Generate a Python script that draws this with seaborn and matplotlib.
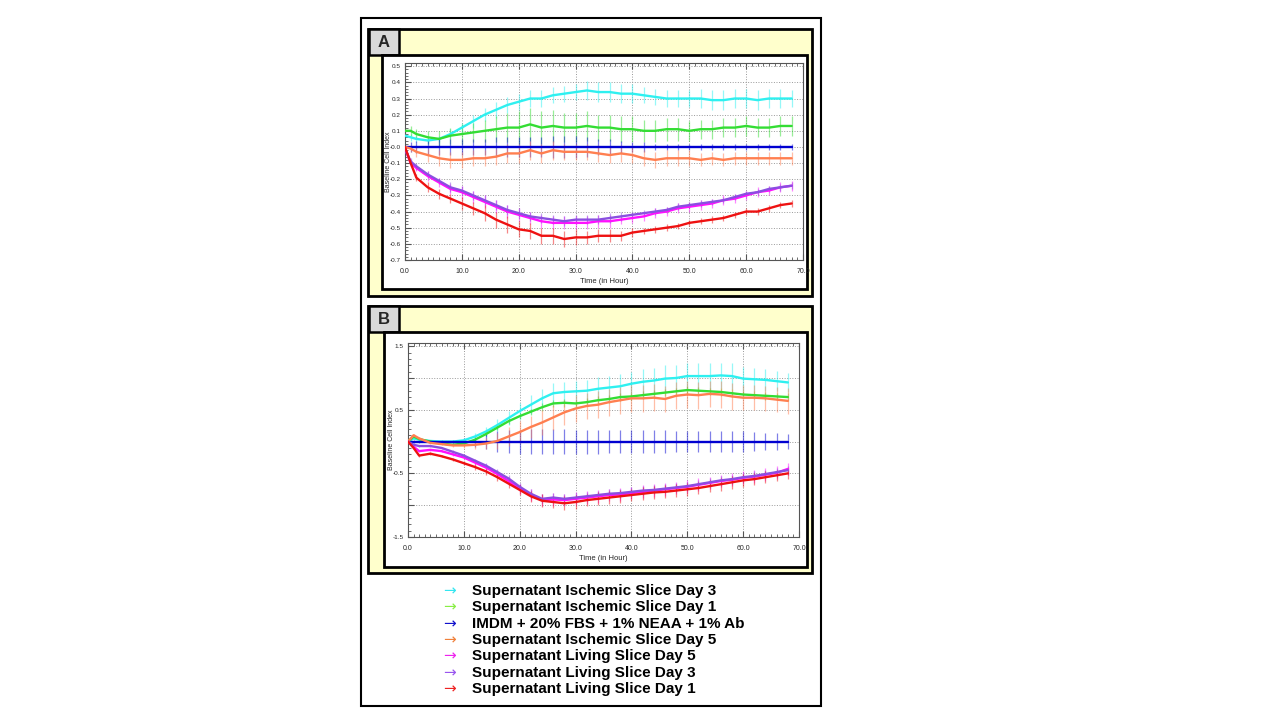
import numpy as np
import pandas as pd
import matplotlib
matplotlib.use("Agg")
import matplotlib.pyplot as plt
from matplotlib.patches import Rectangle
from matplotlib.ticker import MultipleLocator, FixedLocator
import seaborn as sns

# Time points (hours)
time_h = [0, 1, 2, 4, 6, 8, 10, 12, 14, 16, 18, 20, 22, 24, 26, 28, 30, 32, 34,
          36, 38, 40, 42, 44, 46, 48, 50, 52, 54, 56, 58, 60, 62, 64, 66, 68]

series_names = ["Supernatant Ischemic Slice Day 3",
                "Supernatant Ischemic Slice Day 1",
                "IMDM + 20% FBS + 1% NEAA + 1% Ab",
                "Supernatant Ischemic Slice Day 5",
                "Supernatant Living Slice Day 5",
                "Supernatant Living Slice Day 3",
                "Supernatant Living Slice Day 1"]
series_colors = ["#2EF0F0", "#33DD33", "#0000D0", "#FF7F50", "#FF10FF", "#8A4FE0", "#EE1111"]
legend_arrow_colors = ["#33E6F0", "#88EE44", "#1111CC", "#F0803A", "#EE22EE", "#9955EE", "#EE2222"]

# ---- Panel A: mean baseline cell index ----
a_isch_d3 = [0.07, 0.06, 0.05, 0.04, 0.05, 0.08, 0.12, 0.16, 0.20, 0.23, 0.26, 0.28, 0.30, 0.30,
             0.32, 0.33, 0.34, 0.35, 0.34, 0.34, 0.33, 0.33, 0.32, 0.31, 0.30, 0.30, 0.30, 0.30,
             0.29, 0.29, 0.30, 0.30, 0.29, 0.30, 0.30, 0.30]
a_isch_d1 = [0.10, 0.10, 0.08, 0.06, 0.05, 0.07, 0.08, 0.09, 0.10, 0.11, 0.12, 0.12, 0.14, 0.12,
             0.13, 0.12, 0.12, 0.13, 0.12, 0.12, 0.11, 0.11, 0.10, 0.10, 0.11, 0.11, 0.10, 0.11,
             0.11, 0.12, 0.12, 0.13, 0.12, 0.12, 0.13, 0.13]
a_medium = [0.0] * 36
a_isch_d5 = [0.00, -0.01, -0.03, -0.05, -0.07, -0.08, -0.08, -0.07, -0.07, -0.06, -0.04, -0.04,
             -0.02, -0.04, -0.02, -0.03, -0.03, -0.03, -0.04, -0.05, -0.04, -0.05, -0.07, -0.08,
             -0.07, -0.07, -0.07, -0.08, -0.07, -0.08, -0.07, -0.07, -0.07, -0.07, -0.07, -0.07]
a_liv_d5 = [-0.01, -0.10, -0.13, -0.18, -0.22, -0.26, -0.28, -0.31, -0.34, -0.37, -0.40, -0.42,
            -0.44, -0.46, -0.47, -0.47, -0.47, -0.47, -0.46, -0.46, -0.45, -0.44, -0.43, -0.41,
            -0.40, -0.38, -0.37, -0.36, -0.35, -0.33, -0.32, -0.30, -0.28, -0.27, -0.25, -0.24]
a_liv_d3 = [-0.01, -0.09, -0.12, -0.17, -0.21, -0.25, -0.27, -0.30, -0.33, -0.36, -0.39, -0.41,
            -0.43, -0.44, -0.45, -0.46, -0.45, -0.45, -0.45, -0.44, -0.43, -0.42, -0.41, -0.40,
            -0.39, -0.37, -0.36, -0.35, -0.34, -0.33, -0.31, -0.29, -0.28, -0.26, -0.25, -0.24]
a_liv_d1 = [0.00, -0.10, -0.19, -0.25, -0.29, -0.32, -0.35, -0.38, -0.41, -0.45, -0.48, -0.51,
            -0.52, -0.55, -0.55, -0.57, -0.56, -0.56, -0.55, -0.55, -0.55, -0.53, -0.52, -0.51,
            -0.50, -0.49, -0.47, -0.46, -0.45, -0.44, -0.42, -0.40, -0.40, -0.38, -0.36, -0.35]

# Panel A: error (half-width)
a_err = [
    [0.01, 0.02, 0.02, 0.02, 0.02, 0.03, 0.03, 0.04, 0.04, 0.05, 0.05, 0.05, 0.05, 0.05, 0.05,
     0.05, 0.05, 0.06, 0.06, 0.06, 0.06, 0.06, 0.05, 0.05, 0.05, 0.05, 0.05, 0.06, 0.06, 0.06,
     0.06, 0.06, 0.06, 0.06, 0.06, 0.05],
    [0.02, 0.03, 0.03, 0.04, 0.05, 0.05, 0.06, 0.06, 0.07, 0.08, 0.09, 0.10, 0.10, 0.10, 0.10,
     0.09, 0.09, 0.09, 0.08, 0.08, 0.08, 0.08, 0.07, 0.07, 0.07, 0.07, 0.06, 0.06, 0.06, 0.06,
     0.06, 0.06, 0.06, 0.06, 0.06, 0.06],
    [0.01, 0.03, 0.04, 0.05, 0.05, 0.05, 0.05, 0.05, 0.05, 0.06, 0.06, 0.06, 0.06, 0.06, 0.07,
     0.07, 0.07, 0.06, 0.05, 0.05, 0.04, 0.03, 0.03, 0.02, 0.02, 0.02, 0.02, 0.02, 0.02, 0.02,
     0.02, 0.02, 0.02, 0.02, 0.02, 0.02],
    [0.01, 0.02, 0.03, 0.04, 0.05, 0.05, 0.05, 0.05, 0.05, 0.05, 0.06, 0.06, 0.06, 0.06, 0.06,
     0.05, 0.05, 0.05, 0.05, 0.05, 0.05, 0.05, 0.05, 0.05, 0.05, 0.05, 0.05, 0.04, 0.04, 0.04,
     0.04, 0.04, 0.04, 0.04, 0.04, 0.04],
    [0.01, 0.02, 0.02, 0.03, 0.03, 0.03, 0.04, 0.04, 0.04, 0.04, 0.04, 0.04, 0.04, 0.04, 0.04,
     0.04, 0.04, 0.04, 0.04, 0.04, 0.03, 0.03, 0.03, 0.03, 0.03, 0.03, 0.03, 0.03, 0.03, 0.03,
     0.03, 0.03, 0.03, 0.03, 0.03, 0.03],
    [0.01, 0.02, 0.02, 0.02, 0.02, 0.03, 0.03, 0.03, 0.03, 0.03, 0.03, 0.03, 0.03, 0.03, 0.03,
     0.03, 0.03, 0.03, 0.03, 0.03, 0.03, 0.02, 0.02, 0.02, 0.02, 0.02, 0.02, 0.02, 0.02, 0.02,
     0.02, 0.02, 0.02, 0.02, 0.02, 0.02],
    [0.01, 0.02, 0.02, 0.03, 0.03, 0.03, 0.04, 0.04, 0.05, 0.05, 0.05, 0.05, 0.05, 0.05, 0.05,
     0.05, 0.05, 0.04, 0.04, 0.04, 0.03, 0.03, 0.02, 0.02, 0.02, 0.02, 0.02, 0.02, 0.02, 0.02,
     0.02, 0.02, 0.02, 0.02, 0.02, 0.02],
]

# ---- Panel B: mean baseline cell index ----
b_isch_d3 = [0.00, 0.05, 0.03, 0.01, 0.00, 0.00, 0.02, 0.08, 0.16, 0.26, 0.37, 0.48, 0.58, 0.68,
             0.76, 0.78, 0.79, 0.80, 0.83, 0.85, 0.87, 0.91, 0.94, 0.96, 0.99, 1.00, 1.03, 1.03,
             1.03, 1.04, 1.03, 0.99, 0.98, 0.97, 0.95, 0.93]
b_isch_d1 = [0.00, 0.08, 0.04, 0.00, -0.03, -0.05, -0.03, 0.03, 0.12, 0.22, 0.32, 0.40, 0.47, 0.54,
             0.60, 0.61, 0.60, 0.62, 0.65, 0.67, 0.70, 0.71, 0.73, 0.75, 0.77, 0.79, 0.81, 0.80,
             0.79, 0.78, 0.76, 0.74, 0.73, 0.72, 0.71, 0.70]
b_medium = [0.0] * 36
b_isch_d5 = [0.00, 0.10, 0.05, -0.02, -0.04, -0.06, -0.06, -0.05, -0.03, 0.01, 0.08, 0.15, 0.23,
             0.30, 0.38, 0.46, 0.52, 0.56, 0.58, 0.62, 0.65, 0.68, 0.68, 0.69, 0.67, 0.72, 0.74,
             0.73, 0.75, 0.74, 0.71, 0.69, 0.69, 0.68, 0.66, 0.64]
b_liv_d5 = [0.00, -0.08, -0.15, -0.13, -0.15, -0.20, -0.25, -0.33, -0.41, -0.51, -0.62, -0.74,
            -0.84, -0.92, -0.91, -0.92, -0.90, -0.88, -0.86, -0.84, -0.83, -0.81, -0.79, -0.77,
            -0.75, -0.73, -0.71, -0.68, -0.65, -0.62, -0.60, -0.57, -0.55, -0.52, -0.49, -0.43]
b_liv_d3 = [0.00, -0.05, -0.07, -0.07, -0.10, -0.16, -0.22, -0.30, -0.38, -0.48, -0.58, -0.71,
            -0.82, -0.90, -0.88, -0.90, -0.88, -0.86, -0.84, -0.82, -0.81, -0.79, -0.77, -0.76,
            -0.74, -0.72, -0.70, -0.67, -0.64, -0.61, -0.59, -0.56, -0.54, -0.51, -0.48, -0.45]
b_liv_d1 = [0.00, -0.10, -0.22, -0.19, -0.23, -0.28, -0.34, -0.40, -0.47, -0.56, -0.66, -0.76,
            -0.86, -0.93, -0.95, -0.97, -0.95, -0.92, -0.90, -0.88, -0.86, -0.84, -0.82, -0.80,
            -0.79, -0.77, -0.75, -0.73, -0.70, -0.67, -0.64, -0.61, -0.59, -0.56, -0.53, -0.50]

# Panel B: error (half-width)
b_err = [
    [0.00, 0.01, 0.01, 0.01, 0.01, 0.02, 0.03, 0.05, 0.07, 0.09, 0.11, 0.13, 0.15, 0.15, 0.16,
     0.16, 0.17, 0.17, 0.18, 0.18, 0.19, 0.19, 0.20, 0.20, 0.21, 0.21, 0.21, 0.21, 0.21, 0.20,
     0.20, 0.19, 0.18, 0.17, 0.16, 0.15],
    [0.00, 0.01, 0.01, 0.01, 0.01, 0.01, 0.02, 0.03, 0.03, 0.04, 0.05, 0.05, 0.05, 0.06, 0.06,
     0.06, 0.06, 0.06, 0.06, 0.06, 0.06, 0.06, 0.06, 0.06, 0.06, 0.06, 0.06, 0.06, 0.06, 0.06,
     0.06, 0.06, 0.06, 0.06, 0.06, 0.06],
    [0.00, 0.02, 0.02, 0.02, 0.02, 0.03, 0.05, 0.08, 0.12, 0.16, 0.18, 0.19, 0.20, 0.20, 0.20,
     0.20, 0.19, 0.19, 0.19, 0.18, 0.18, 0.18, 0.18, 0.18, 0.18, 0.17, 0.17, 0.17, 0.17, 0.17,
     0.16, 0.16, 0.15, 0.14, 0.13, 0.12],
    [0.00, 0.02, 0.02, 0.02, 0.02, 0.03, 0.04, 0.06, 0.09, 0.12, 0.15, 0.17, 0.18, 0.19, 0.20,
     0.20, 0.21, 0.21, 0.21, 0.21, 0.21, 0.21, 0.21, 0.21, 0.21, 0.21, 0.21, 0.21, 0.21, 0.21,
     0.21, 0.20, 0.20, 0.20, 0.20, 0.20],
    [0.00, 0.02, 0.02, 0.02, 0.02, 0.02, 0.03, 0.04, 0.05, 0.06, 0.07, 0.08, 0.09, 0.10, 0.10,
     0.10, 0.10, 0.10, 0.10, 0.10, 0.10, 0.10, 0.10, 0.10, 0.10, 0.10, 0.10, 0.10, 0.10, 0.10,
     0.10, 0.10, 0.10, 0.10, 0.10, 0.10],
    [0.00, 0.01, 0.01, 0.01, 0.01, 0.02, 0.02, 0.03, 0.04, 0.05, 0.06, 0.06, 0.07, 0.07, 0.07,
     0.07, 0.07, 0.07, 0.07, 0.07, 0.07, 0.07, 0.07, 0.07, 0.07, 0.07, 0.07, 0.07, 0.07, 0.07,
     0.07, 0.07, 0.07, 0.07, 0.07, 0.07],
    [0.00, 0.02, 0.02, 0.02, 0.02, 0.02, 0.03, 0.04, 0.05, 0.06, 0.07, 0.08, 0.09, 0.10, 0.10,
     0.11, 0.11, 0.10, 0.10, 0.10, 0.10, 0.10, 0.10, 0.10, 0.10, 0.10, 0.10, 0.10, 0.10, 0.10,
     0.10, 0.10, 0.09, 0.09, 0.09, 0.09],
]

panel_a = [a_isch_d3, a_isch_d1, a_medium, a_isch_d5, a_liv_d5, a_liv_d3, a_liv_d1]
panel_b = [b_isch_d3, b_isch_d1, b_medium, b_isch_d5, b_liv_d5, b_liv_d3, b_liv_d1]


def to_long(values):
    frames = []
    for name, vals in zip(series_names, values):
        frames.append(pd.DataFrame({"time": time_h, "value": vals, "series": name}))
    return pd.concat(frames, ignore_index=True)


sns.set_style("white")
plt.rcParams["font.family"] = ["Liberation Sans", "DejaVu Sans"]

W, H = 1280, 720
fig = plt.figure(figsize=(12.8, 7.2), dpi=100)
fig.patch.set_facecolor("white")


def box(x0, y0, x1, y1, fc, lw, ec="black", z=0):
    r = Rectangle((x0 / W, 1 - y1 / H), (x1 - x0) / W, (y1 - y0) / H,
                  transform=fig.transFigure, facecolor=fc, edgecolor=ec,
                  linewidth=lw, zorder=z)
    fig.add_artist(r)


# outer frame
box(361, 18, 821, 706, "white", 1.5)


def panel(letter, py0, py1, frame, axrect, values, errors, ylim, yticks, ylabels, minor_y, ylab_x):
    box(368, py0, 812, py1, "#FFFFCC", 2.0, z=1)
    box(369, py0, 399, py0 + 26, "#D9D9D9", 1.8, z=2)
    fig.text(384 / W, 1 - (py0 + 13.5) / H, letter, ha="center", va="center",
             fontsize=12, fontweight="bold", zorder=3)
    box(frame[0], frame[1], frame[2], frame[3], "white", 2.0, z=2)
    x0, y0, x1, y1 = axrect
    ax = fig.add_axes([x0 / W, 1 - y1 / H, (x1 - x0) / W, (y1 - y0) / H], zorder=4)
    ax.set_facecolor("white")
    df = to_long(values)
    for name, col, err in zip(series_names, series_colors, errors):
        sub = df[df["series"] == name]
        ax.errorbar(sub["time"], sub["value"], yerr=err, fmt="none",
                    ecolor=col, elinewidth=0.9, alpha=0.5, capsize=0, zorder=2)
    sns.lineplot(data=df, x="time", y="value", hue="series", hue_order=series_names,
                 palette=series_colors, linewidth=1.7, legend=False, ax=ax, zorder=3)
    ax.set_xlim(0, 70)
    ax.set_ylim(*ylim)
    ax.xaxis.set_major_locator(MultipleLocator(10))
    ax.xaxis.set_minor_locator(MultipleLocator(1))
    ax.set_xticklabels([f"{v:.1f}" for v in ax.get_xticks()])
    ax.yaxis.set_major_locator(FixedLocator(yticks))
    ax.set_yticklabels(ylabels)
    ax.yaxis.set_minor_locator(MultipleLocator(minor_y))
    ax.tick_params(which="both", direction="in", top=True, bottom=True, left=True,
                   right=False, labelsize=5, color="#555555")
    ax.tick_params(axis="x", pad=6)
    ax.tick_params(axis="y", pad=3, labelsize=4.6)
    ax.tick_params(which="major", length=4)
    ax.tick_params(which="minor", length=2)
    ax.grid(True, which="major", linestyle=":", color="#999999", linewidth=0.7)
    for s in ax.spines.values():
        s.set_color("#555555")
        s.set_linewidth(0.8)
    ax.set_xlabel("Time (in Hour)", fontsize=5.5, labelpad=2)
    ax.set_ylabel("Baseline Cell Index", fontsize=5)
    ax.yaxis.set_label_coords((ylab_x - x0) / (x1 - x0), 0.5)
    return ax


yt_a = [0.5, 0.4, 0.3, 0.2, 0.1, 0.0, -0.1, -0.2, -0.3, -0.4, -0.5, -0.6, -0.7]
yl_a = ["0.5", "0.4", "0.3", "0.2", "0.1", "-0.0", "-0.1", "-0.2", "-0.3", "-0.4", "-0.5", "-0.6", "-0.7"]
panel("A", 29, 296, (382, 55, 807, 289), (405, 63, 803, 260), panel_a, a_err,
      (-0.7, 0.52), yt_a, yl_a, 0.02, 392)

yt_b = [1.5, 1.0, 0.5, 0.0, -0.5, -1.0, -1.5]
yl_b = ["1.5", "", "0.5", "", "-0.5", "", "-1.5"]
panel("B", 306, 573, (384, 332, 807, 567), (408, 343, 799, 537), panel_b, b_err,
      (-1.5, 1.55), yt_b, yl_b, 0.1, 395)

# legend below panels
for i, (name, col) in enumerate(zip(series_names, legend_arrow_colors)):
    ypix = 591 + i * 16.3
    fig.text(449 / W, 1 - ypix / H, "\u2192", color=col, fontsize=11,
             ha="center", va="center", family=["DejaVu Sans"])
    fig.text(472 / W, 1 - ypix / H, name, fontsize=11, fontweight="bold",
             ha="left", va="center", color="black")

fig.savefig("out.png", dpi=100)
